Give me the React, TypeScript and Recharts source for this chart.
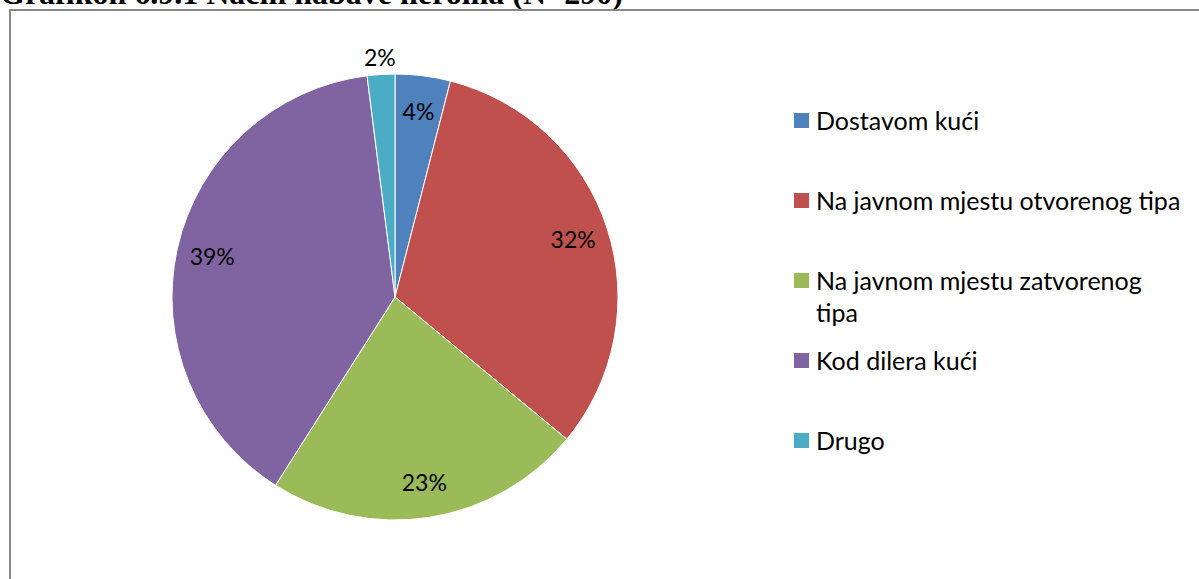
import { PieChart, Pie, Cell, Legend } from 'recharts';

const TITLE = 'Grafikon 6.9.1 Način nabave heroina (N=290)';

const CATEGORIES = [
  'Dostavom kući',
  'Na javnom mjestu otvorenog tipa',
  'Na javnom mjestu zatvorenog tipa',
  'Kod dilera kući',
  'Drugo',
];

const SHARES = [4, 32, 23, 39, 2]; // %

const COLORS = ['#4F81BD', '#C0504D', '#9BBB59', '#8064A2', '#4BACC6'];

const data = CATEGORIES.map((name, i) => ({ name, value: SHARES[i] }));

const FONT = 'Lato, "Noto Sans", sans-serif';
const RADIAN = Math.PI / 180;

function renderLabel(props: any) {
  const { cx, cy, midAngle, outerRadius, percent, value } = props;
  // small slices get their label outside the pie
  const r = percent < 0.03 ? outerRadius + 17 : outerRadius * 0.84;
  const x = cx + r * Math.cos(-midAngle * RADIAN);
  const y = cy + r * Math.sin(-midAngle * RADIAN);
  return (
    <text
      x={x}
      y={y}
      fill="#000"
      textAnchor="middle"
      dominantBaseline="central"
      style={{ fontFamily: FONT, fontSize: 23 }}
    >
      {`${value}%`}
    </text>
  );
}

function renderLegend(props: any) {
  // keep the series order, not the alphabetical one
  const payload = [...props.payload].sort(
    (a: any, b: any) => CATEGORIES.indexOf(a.value) - CATEGORIES.indexOf(b.value)
  );
  return (
    <div style={{ fontFamily: FONT, fontSize: 25, color: '#000' }}>
      {payload.map((entry: any) => (
        <div
          key={entry.value}
          style={{ height: 80, paddingTop: 24, boxSizing: 'border-box', display: 'flex', alignItems: 'flex-start' }}
        >
          <span
            style={{
              width: 15,
              height: 15,
              marginTop: 9,
              marginRight: 7,
              flex: 'none',
              background: entry.color,
            }}
          />
          <span style={{ lineHeight: '32px', width: 368 }}>{entry.value}</span>
        </div>
      ))}
    </div>
  );
}

export default function App() {
  return (
    <div style={{ position: 'absolute', left: 0, top: 0, width: 1199, height: 579, overflow: 'hidden', background: '#fff' }}>
      <div
        style={{
          position: 'absolute',
          left: 0,
          top: -25,
          fontFamily: '"Liberation Serif", serif',
          fontWeight: 'bold',
          fontSize: 32,
          whiteSpace: 'nowrap',
          lineHeight: 'normal',
        }}
      >
        {TITLE}
      </div>
      <div
        style={{
          position: 'absolute',
          left: 9,
          top: 9,
          width: 1300,
          height: 700,
          border: '2px solid #888',
        }}
      />
      <div style={{ position: 'absolute', left: 0, top: 0 }}>
        <PieChart width={1199} height={579} margin={{ top: 0, right: 0, bottom: 0, left: 0 }}>
          <Pie
            data={data}
            dataKey="value"
            nameKey="name"
            cx={395}
            cy={297}
            outerRadius={223}
            startAngle={90}
            endAngle={-270}
            stroke="#fff"
            strokeWidth={1}
            label={renderLabel}
            labelLine={false}
            isAnimationActive={false}
          >
            {data.map((_, i) => (
              <Cell key={i} fill={COLORS[i]} />
            ))}
          </Pie>
          <Legend
            layout="vertical"
            align="right"
            verticalAlign="top"
            content={renderLegend}
            wrapperStyle={{ left: 794, top: 80, width: 400 }}
          />
        </PieChart>
      </div>
    </div>
  );
}
